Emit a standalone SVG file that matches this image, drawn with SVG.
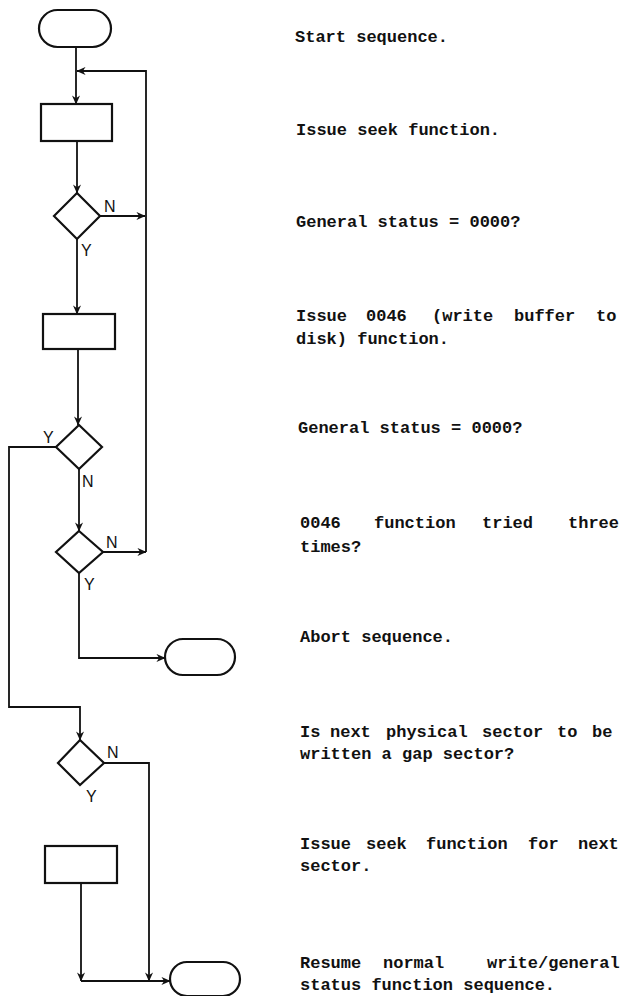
<svg xmlns="http://www.w3.org/2000/svg" width="626" height="996" viewBox="0 0 626 996">
<style>
.shape{fill:#fff;stroke:#111;stroke-width:2.2}
.conn{fill:none;stroke:#111;stroke-width:1.8}
.lbl{font-family:"Liberation Sans",Arial,sans-serif;font-size:16px;fill:#111}
.desc{font-family:"Liberation Mono","Courier New",monospace;font-size:17px;font-weight:bold;fill:#111}
</style>
<defs>
<marker id="ah" viewBox="0 0 10 10" refX="9.5" refY="5" markerWidth="9" markerHeight="9" markerUnits="userSpaceOnUse" orient="auto">
<path d="M0,0.5 L10,5 L0,9.5 L3,5 z" fill="#111"/>
</marker>
</defs>
<rect width="626" height="996" fill="#fff"/>
<g id="connectors">
<path class="conn" d="M76,47 V104" marker-end="url(#ah)"/>
<path class="conn" d="M146,552 V71 H77" marker-end="url(#ah)"/>
<path class="conn" d="M77,141 V193" marker-end="url(#ah)"/>
<path class="conn" d="M100,216 H145" marker-end="url(#ah)"/>
<path class="conn" d="M77,239 V314" marker-end="url(#ah)"/>
<path class="conn" d="M78,349 V425" marker-end="url(#ah)"/>
<path class="conn" d="M56,447 H9 V707 H80 V740" marker-end="url(#ah)"/>
<path class="conn" d="M79,469 V531" marker-end="url(#ah)"/>
<path class="conn" d="M103,552 H146" marker-end="url(#ah)"/>
<path class="conn" d="M79,573 V658 H165" marker-end="url(#ah)"/>
<path class="conn" d="M104,763 H149 V981" marker-end="url(#ah)"/>
<path class="conn" d="M81,883 V981" marker-end="url(#ah)"/>
<path class="conn" d="M81,981 H170" marker-end="url(#ah)"/>
</g>
<g id="start"><rect class="shape" x="39" y="10" width="72" height="37" rx="18.5"/></g>
<g id="seek"><rect class="shape" x="41" y="104" width="71" height="37"/></g>
<g id="status1"><path class="shape" d="M77,193 L100,216 L77,239 L54,216 z"/>
<text class="lbl" x="104" y="212">N</text><text class="lbl" x="81" y="256">Y</text></g>
<g id="write"><rect class="shape" x="43" y="314" width="72" height="35"/></g>
<g id="status2"><path class="shape" d="M79,425 L102,447 L79,469 L56,447 z"/>
<text class="lbl" x="43" y="443">Y</text><text class="lbl" x="82" y="487">N</text></g>
<g id="tried"><path class="shape" d="M79,531 L103,552 L79,573 L56,552 z"/>
<text class="lbl" x="106" y="548">N</text><text class="lbl" x="84" y="590">Y</text></g>
<g id="abort"><rect class="shape" x="165" y="639" width="70" height="36" rx="18"/></g>
<g id="gap"><path class="shape" d="M80,740 L104,763 L80,785 L58,763 z"/>
<text class="lbl" x="107" y="758">N</text><text class="lbl" x="86" y="802">Y</text></g>
<g id="seeknext"><rect class="shape" x="45" y="846" width="72" height="37"/></g>
<g id="resume"><rect class="shape" x="170" y="962" width="70" height="34" rx="17"/></g>
<g id="descriptions">
<text class="desc" x="295" y="42">Start sequence.</text>
<text class="desc" x="296" y="135">Issue seek function.</text>
<text class="desc" x="296" y="227">General status = 0000?</text>
<text class="desc" y="321"><tspan x="296">Issue</tspan><tspan x="366">0046</tspan><tspan x="432">(write</tspan><tspan x="514">buffer</tspan><tspan x="596">to</tspan></text>
<text class="desc" x="296" y="344">disk) function.</text>
<text class="desc" x="298" y="433">General status = 0000?</text>
<text class="desc" y="528"><tspan x="300">0046</tspan><tspan x="374">function</tspan><tspan x="482">tried</tspan><tspan x="568">three</tspan></text>
<text class="desc" x="300" y="552">times?</text>
<text class="desc" x="300" y="642">Abort sequence.</text>
<text class="desc" y="737"><tspan x="300">Is</tspan><tspan x="330">next</tspan><tspan x="386">physical</tspan><tspan x="482">sector</tspan><tspan x="557">to</tspan><tspan x="592">be</tspan></text>
<text class="desc" x="300" y="759">written a gap sector?</text>
<text class="desc" y="849"><tspan x="300">Issue</tspan><tspan x="366">seek</tspan><tspan x="426">function</tspan><tspan x="528">for</tspan><tspan x="578">next</tspan></text>
<text class="desc" x="300" y="871">sector.</text>
<text class="desc" y="968"><tspan x="300">Resume</tspan><tspan x="383">normal</tspan><tspan x="487">write/general</tspan></text>
<text class="desc" x="300" y="990">status function sequence.</text>
</g>
</svg>
